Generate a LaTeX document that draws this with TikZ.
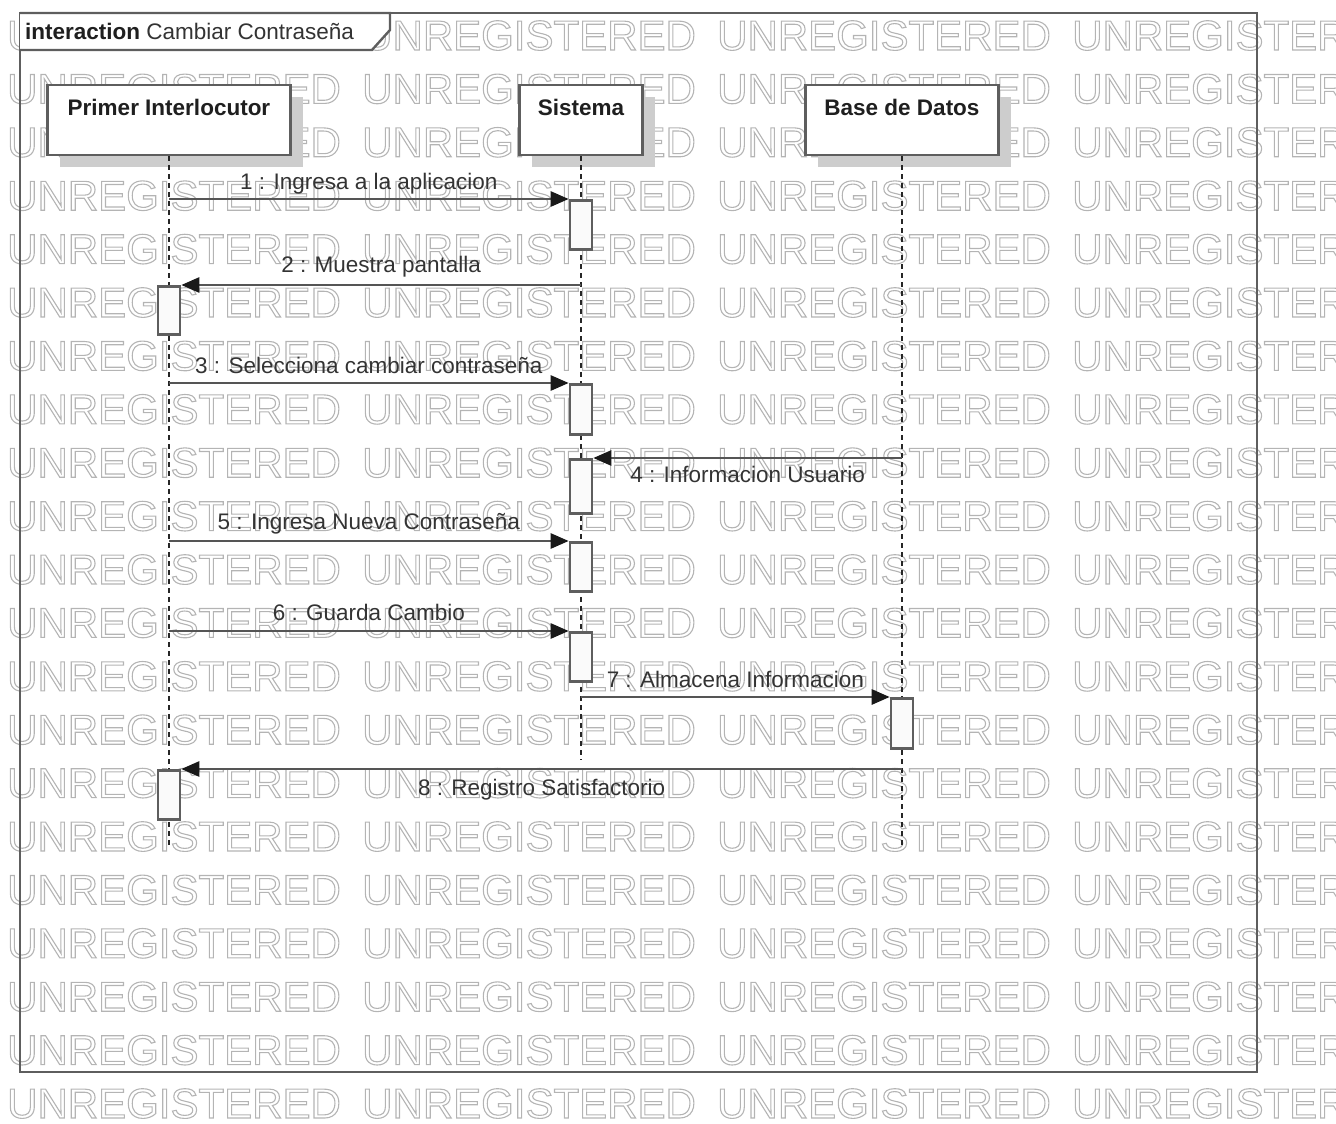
\documentclass[tikz,border=0pt]{standalone}
\usepackage{fontspec}
\setmainfont{Liberation Sans}
\usetikzlibrary{arrows.meta,shadows}

\definecolor{wmgray}{HTML}{B4B4B4}
\definecolor{boxgray}{HTML}{5E5E5E}
\definecolor{linegray}{HTML}{555555}
\definecolor{shadowgray}{HTML}{CDCDCD}
\definecolor{txtgray}{HTML}{333333}
\definecolor{actfill}{HTML}{FAFAFA}

% hollow (outlined) glyphs for the background stamp
\newcommand\hollowtext[1]{\special{pdf:literal direct 1 Tr 1.1 w}#1\special{pdf:literal direct 0 Tr}}

\begin{document}
\begin{tikzpicture}[x=1pt,y=-1pt,
  stamp/.style={font=\fontsize{42}{42}\selectfont, text=wmgray, inner sep=0pt, anchor=base west},
  frameline/.style={draw=boxgray, line width=2.4pt},
  head/.style={draw=boxgray, line width=2.6pt, fill=white, minimum width=#1,
    minimum height=70pt, inner xsep=4pt, inner ysep=7pt, text height=23pt, text depth=33pt,
    font=\fontsize{22.5}{27}\selectfont\bfseries, text=black!88,
    drop shadow={shadow xshift=12pt, shadow yshift=-12pt, fill=shadowgray, opacity=1}},
  act/.style={draw=boxgray, line width=2.6pt, fill=actfill, minimum width=22pt,
    minimum height=#1, inner sep=0pt, anchor=north},
  life/.style={draw=black!85, line width=1.4pt, dash pattern=on 5pt off 4pt},
  msg/.style={draw=linegray, line width=2.6pt, -{Triangle[length=18pt,width=15pt,color=black!90]}},
  lbl/.style={font=\fontsize{22.5}{27}\selectfont, text=txtgray, inner sep=0pt, anchor=base},
]
\useasboundingbox (0,0) rectangle (1336,1124);
\clip (0,0) rectangle (1336,1124);

% background stamp
\foreach \i in {0,...,20}{
  \foreach \j in {0,...,3}{
    \node[stamp] (stamp-\i-\j) at ({7+355*\j},{50+53.4*\i}) {\hollowtext{UNREGISTERED}};
  }
}

% interaction frame and its tab
\draw[frameline] (20,13) rectangle (1257,1072);
\draw[frameline, fill=white] (20,13) -- (390,13) -- (390,30) -- (372,50) -- (20,50);
\node[anchor=base west, inner sep=0pt, font=\fontsize{22.5}{27}\selectfont, text=txtgray]
  (title) at (25,40) {\textcolor{black!88}{\bfseries interaction} Cambiar Contraseña};

% lifeline heads
\node[head=243pt] (p) at (169,120) {Primer Interlocutor};
\node[head=123pt] (s) at (581,120) {Sistema};
\node[head=193pt] (b) at (902,120) {Base de Datos};

% lifelines
\coordinate (pend) at (169,845);
\coordinate (send) at (581,760);
\coordinate (bend) at (902,845);
\draw[life] (p.south) -- (pend);
\draw[life] (s.south) -- (send);
\draw[life] (b.south) -- (bend);

% activation bars
\node[act=49pt] (s1) at (581,199) {};
\node[act=48pt] (p1) at (169,285) {};
\node[act=50pt] (s2) at (581,383) {};
\node[act=54pt] (s3) at (581,458) {};
\node[act=49pt] (s4) at (581,541) {};
\node[act=49pt] (s5) at (581,631) {};
\node[act=50pt] (b1) at (902,697) {};
\node[act=49pt] (p2) at (169,769) {};

% messages
\draw[msg] (p.south |- s1.north) -- (s1.north west)
  node[lbl, midway, yshift=10pt] (m1) {1 : Ingresa a la aplicacion};
\draw[msg] (s.south |- p1.north) -- (p1.north east)
  node[lbl, midway, yshift=13pt] (m2) {2 : Muestra pantalla};
\draw[msg] (p.south |- s2.north) -- (s2.north west)
  node[lbl, midway, yshift=10pt] (m3) {3 : Selecciona cambiar contraseña};
\draw[msg] (b.south |- s3.north) -- (s3.north east)
  node[lbl, midway, yshift=-24pt] (m4) {4 : Informacion Usuario};
\draw[msg] (p.south |- s4.north) -- (s4.north west)
  node[lbl, midway, yshift=12pt] (m5) {5 : Ingresa Nueva Contraseña};
\draw[msg] (p.south |- s5.north) -- (s5.north west)
  node[lbl, midway, yshift=11pt] (m6) {6 : Guarda Cambio};
\draw[msg] (s.south |- b1.north) -- (b1.north west)
  node[lbl, midway, yshift=10pt] (m7) {7 : Almacena Informacion};
\draw[msg] (b.south |- p2.north) -- (p2.north east)
  node[lbl, midway, yshift=-26pt] (m8) {8 : Registro Satisfactorio};
\end{tikzpicture}
\end{document}
